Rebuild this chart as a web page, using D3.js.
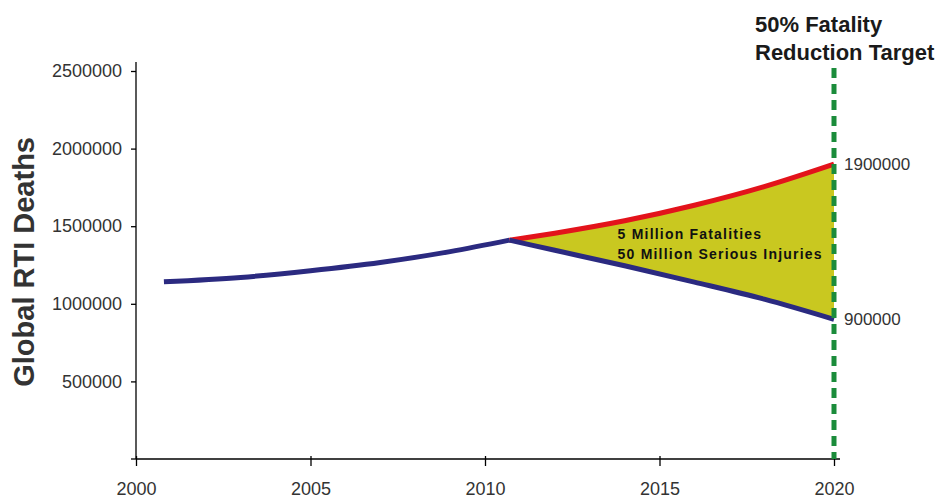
<!DOCTYPE html>
<html>
<head>
<meta charset="utf-8">
<script src="https://cdn.jsdelivr.net/npm/d3@7"></script>
<style>
  body { margin: 0; background: #fff; }
  svg { display: block; font-family: "Liberation Sans", Arial, sans-serif; }
  .axis path, .axis line { stroke: #000; stroke-width: 1.3; }
  .axis text { fill: #333; font-size: 18px; font-family: "Liberation Sans", Arial, sans-serif; }
</style>
</head>
<body>
<div id="chart"></div>
<script>
// values
const baseYears = [2000.8, 2003, 2005, 2007, 2009, 2010.7];
const baseDeaths = [1142000, 1170000, 1213000, 1266000, 1336000, 1410000];

const trendYears = [2010.7, 2012, 2014, 2016, 2018, 2020];
const trendDeaths = [1410000, 1455000, 1535000, 1635000, 1755000, 1900000];
const targetDeaths = [1410000, 1345000, 1245000, 1140000, 1030000, 900000];

const xTicks = [2000, 2005, 2010, 2015, 2020];
const yTicks = [500000, 1000000, 1500000, 2000000, 2500000];
const targetYear = 2020;
const endLabels = [1900000, 900000];
const noteLines = ['5 Million Fatalities', '50 Million Serious Injuries'];
const titleLines = ['50% Fatality', 'Reduction Target'];

const W = 951;
const H = 499;
const margin = { top: 71, right: 117, bottom: 40, left: 136 };
const width = W - margin.left - margin.right;
const height = H - margin.top - margin.bottom;

const svg = d3.select('#chart')
  .append('svg')
  .attr('width', W)
  .attr('height', H);

const g = svg.append('g')
  .attr('transform', `translate(${margin.left},${margin.top})`);

const x = d3.scaleLinear()
  .domain([2000, 2020])
  .range([0, width]);

const y = d3.scaleLinear()
  .domain([0, 2500000])
  .range([height, 0]);

const base = baseYears.map((d, i) => ({ year: d, v: baseDeaths[i] }));
const band = trendYears.map((d, i) => ({ year: d, hi: trendDeaths[i], lo: targetDeaths[i] }));

// gap between "no action" and target
const area = d3.area()
  .curve(d3.curveMonotoneX)
  .x(d => x(d.year))
  .y0(d => y(d.lo))
  .y1(d => y(d.hi));

g.append('path')
  .datum(band)
  .attr('d', area)
  .attr('fill', '#c9c820');

const line = d3.line()
  .curve(d3.curveMonotoneX)
  .x(d => x(d.year))
  .y(d => y(d.v));

g.append('path')
  .datum(band.map(d => ({ year: d.year, v: d.hi })))
  .attr('d', line)
  .attr('fill', 'none')
  .attr('stroke', '#e3131b')
  .attr('stroke-width', 5);

g.append('path')
  .datum(band.map(d => ({ year: d.year, v: d.lo })))
  .attr('d', line)
  .attr('fill', 'none')
  .attr('stroke', '#2b2a80')
  .attr('stroke-width', 5);

g.append('path')
  .datum(base)
  .attr('d', line)
  .attr('fill', 'none')
  .attr('stroke', '#2b2a80')
  .attr('stroke-width', 5)
  .attr('stroke-linejoin', 'round');

// axes
const xAxis = d3.axisBottom(x)
  .tickValues(xTicks)
  .tickFormat(d3.format('d'))
  .tickSizeInner(7)
  .tickSizeOuter(0)
  .tickPadding(16);

g.append('g')
  .attr('class', 'x axis')
  .attr('transform', `translate(0,${height})`)
  .call(xAxis)
  .call(s => s.select('.domain').attr('d', `M0,0H${width + 6}`))
  .call(s => s.selectAll('.tick line').attr('y1', -3));

const yAxis = d3.axisLeft(y)
  .tickValues(yTicks)
  .tickFormat(d3.format('d'))
  .tickSizeInner(5)
  .tickSizeOuter(0)
  .tickPadding(9);

g.append('g')
  .attr('class', 'y axis')
  .call(yAxis)
  .call(s => s.select('.domain').attr('d', `M0,${height}V-9`));

g.select('.y.axis').append('line')
  .attr('x1', -5)
  .attr('x2', 0)
  .attr('y1', height)
  .attr('y2', height)
  .attr('stroke', '#000');

// 2020 target line
g.append('line')
  .attr('x1', x(targetYear))
  .attr('x2', x(targetYear))
  .attr('y1', -3)
  .attr('y2', height)
  .attr('stroke', '#1b8c3b')
  .attr('stroke-width', 5)
  .attr('stroke-dasharray', '10,6');

g.selectAll('text.end')
  .data(endLabels)
  .enter()
  .append('text')
  .attr('class', 'end')
  .attr('x', x(targetYear) + 10)
  .attr('y', d => y(d))
  .attr('dy', '0.35em')
  .attr('fill', '#333')
  .attr('font-size', 17)
  .text(d => d);

g.selectAll('text.note')
  .data(noteLines)
  .enter()
  .append('text')
  .attr('class', 'note')
  .attr('x', x(2013.8))
  .attr('y', (d, i) => y(1410000) - 1 + i * 20)
  .attr('font-size', 14)
  .attr('font-weight', 'bold')
  .attr('letter-spacing', 1.2)
  .attr('fill', '#111')
  .text(d => d);

svg.selectAll('text.title')
  .data(titleLines)
  .enter()
  .append('text')
  .attr('class', 'title')
  .attr('x', 755)
  .attr('y', (d, i) => 32 + i * 28)
  .attr('font-size', 22)
  .attr('font-weight', 'bold')
  .attr('fill', '#1a1a1a')
  .text(d => d);

svg.append('text')
  .attr('transform', `translate(34,${margin.top + y(1270000)}) rotate(-90)`)
  .attr('text-anchor', 'middle')
  .attr('font-size', 29)
  .attr('font-weight', 'bold')
  .attr('fill', '#333')
  .text('Global RTI Deaths');
</script>
</body>
</html>
